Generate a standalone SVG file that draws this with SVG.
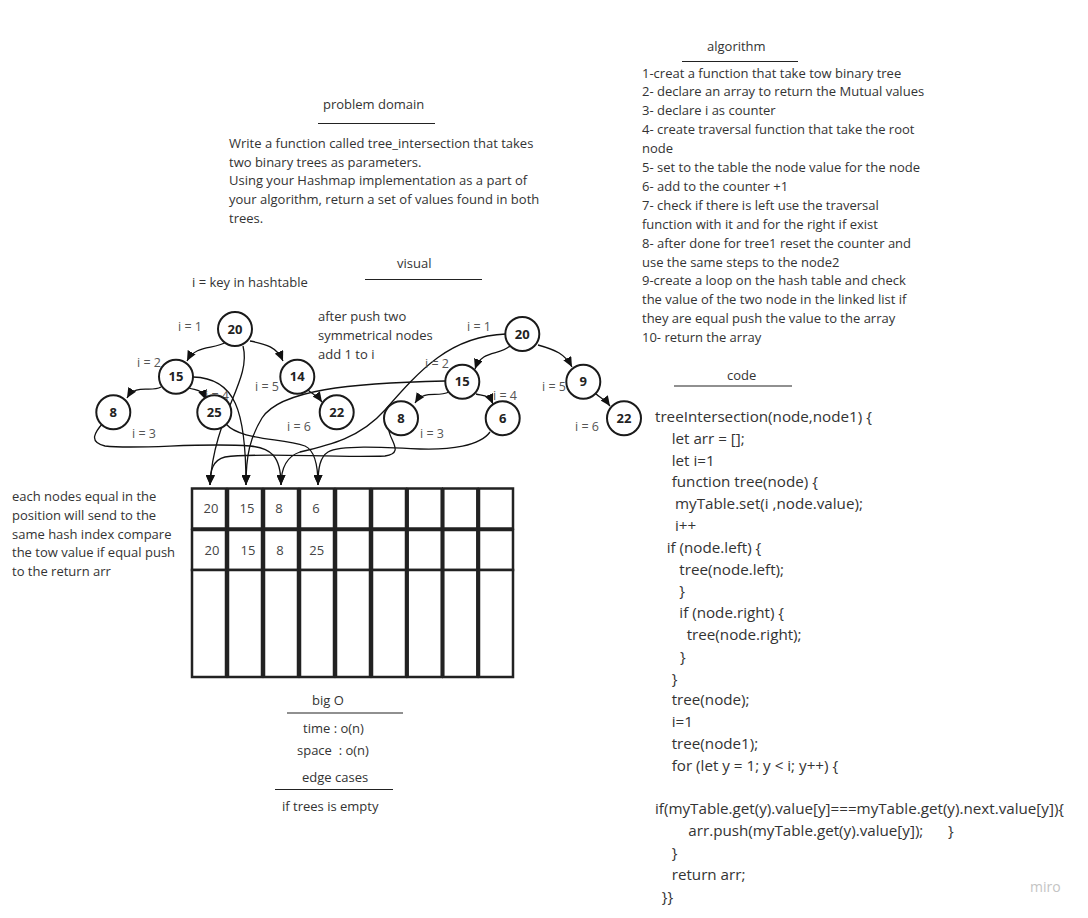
<svg xmlns="http://www.w3.org/2000/svg" width="1088" height="918" viewBox="0 0 1088 918">
<defs>
<marker id="arr" markerUnits="userSpaceOnUse" markerWidth="11" markerHeight="9" refX="10" refY="4.5" orient="auto">
<path d="M0,0 L10,4.5 L0,9 z" fill="#111"/>
</marker>
<style>
.t{font-family:"Open Sans","Liberation Sans",sans-serif;font-size:13px;fill:#333}
.c{font-family:"Open Sans","Liberation Sans",sans-serif;font-size:15.2px;fill:#333;white-space:pre}
.lb{font-family:"Open Sans","Liberation Sans",sans-serif;font-size:12.5px;fill:#555}
.nt{font-family:"Open Sans","Liberation Sans",sans-serif;font-size:13px;font-weight:bold;fill:#222;text-anchor:middle}
.tc{font-family:"Open Sans","Liberation Sans",sans-serif;font-size:13px;fill:#444;text-anchor:middle}
.ul{stroke:#222;stroke-width:1.2}
.n{fill:#fff;stroke:#1a1a1a;stroke-width:2}
.e{fill:none;stroke:#111;stroke-width:1.3;marker-end:url(#arr)}
.cell{fill:#fff;stroke:#222;stroke-width:2.5}
</style>
</defs>
<rect width="1088" height="918" fill="#fff"/>

<g id="algorithm">
<text class="t" x="707" y="51">algorithm</text>
<line class="ul" x1="682" y1="61.5" x2="798" y2="61.5"/>
<text class="t" x="642" y="77.5">1-creat a function that take tow binary tree</text>
<text class="t" x="642" y="96.4">2- declare an array to return the Mutual values</text>
<text class="t" x="642" y="115.3">3- declare i as counter</text>
<text class="t" x="642" y="134.2">4- create traversal function that take the root</text>
<text class="t" x="642" y="153.1">node</text>
<text class="t" x="642" y="172">5- set to the table the node value for the node</text>
<text class="t" x="642" y="190.9">6- add to the counter +1</text>
<text class="t" x="642" y="209.8">7- check if there is left use the traversal</text>
<text class="t" x="642" y="228.7">function with it and for the right if exist</text>
<text class="t" x="642" y="247.6">8- after done for tree1 reset the counter and</text>
<text class="t" x="642" y="266.5">use the same steps to the node2</text>
<text class="t" x="642" y="285.4">9-create a loop on the hash table and check</text>
<text class="t" x="642" y="304.3">the value of the two node in the linked list if</text>
<text class="t" x="642" y="323.2">they are equal push the value to the array</text>
<text class="t" x="642" y="342.1">10- return the array</text>
</g>

<g id="problem-domain">
<text class="t" x="323" y="109">problem domain</text>
<line class="ul" x1="318" y1="123.5" x2="435" y2="123.5"/>
<text class="t" x="229" y="147.8">Write a function called tree_intersection that takes</text>
<text class="t" x="229" y="166.6">two binary trees as parameters.</text>
<text class="t" x="229" y="185.4">Using your Hashmap implementation as a part of</text>
<text class="t" x="229" y="204.2">your algorithm, return a set of values found in both</text>
<text class="t" x="229" y="223">trees.</text>
</g>

<g id="visual-title">
<text class="t" x="397" y="268">visual</text>
<line class="ul" x1="365" y1="279.5" x2="482" y2="279.5"/>
<text class="t" x="192" y="287">i = key in hashtable</text>
</g>

<g id="note-push">
<text class="t" x="318" y="320.5">after push two</text>
<text class="t" x="318" y="339.5">symmetrical nodes</text>
<text class="t" x="318" y="358.5">add 1 to i</text>
</g>

<g id="note-equal">
<text class="t" x="12" y="501">each nodes equal in the</text>
<text class="t" x="12" y="519.8">position will send to the</text>
<text class="t" x="12" y="538.6">same hash index compare</text>
<text class="t" x="12" y="557.4">the tow value if equal push</text>
<text class="t" x="12" y="576.2">to the return arr</text>
</g>

<g id="connectors">
<path class="e" d="M226,342 C214,350 196,344 187,361"/>
<path class="e" d="M250,341 C266,344 277,347 283,361"/>
<path class="e" d="M161,387 C150,393 136,383 127,398"/>
<path class="e" d="M189,388 C198,391 202,389 206,400"/>
<path class="e" d="M308,390 C312,394 317,395 322,402"/>
<path class="e" d="M510,346 C499,356 482,349 475,369"/>
<path class="e" d="M538,345 C556,350 565,354 572,367"/>
<path class="e" d="M449,392 C437,398 424,389 415,403"/>
<path class="e" d="M476,394 C485,396 489,395 493,404"/>
<path class="e" d="M595,393 C600,398 605,399 610,406"/>
<path class="e" d="M243,346 C252,380 214,415 210,485"/>
<path class="e" d="M193,377 C235,378 246,410 246,485"/>
<path class="e" d="M389,431 C391,442 404,453 385,456 C330,458 260,452 225,457 C213,460 210,470 210,485"/>
<path class="e" d="M445,381 C350,383 280,390 262,418 C250,438 246,455 246,485"/>
<path class="e" d="M103,423 C95,432 88,442 105,446 C140,450 200,442 250,446 C270,448 281,455 281,485"/>
<path class="e" d="M506,334 C450,336 420,370 385,410 C360,438 330,445 300,452 C288,456 281,466 281,485"/>
<path class="e" d="M226,424 C240,440 280,438 305,446 C314,450 318,462 318,485"/>
<path class="e" d="M490,432 C480,446 450,450 420,449 C380,447 340,445 328,452 C320,457 318,468 318,485"/>
</g>

<g id="tree1-labels">
<text class="lb" x="178" y="331">i = 1</text>
<text class="lb" x="137" y="367">i = 2</text>
<text class="lb" x="205" y="399.5">i = 4</text>
<text class="lb" x="132" y="438">i = 3</text>
<text class="lb" x="255" y="391">i = 5</text>
<text class="lb" x="287" y="431">i = 6</text>
</g>
<g id="tree2-labels">
<text class="lb" x="467" y="331">i = 1</text>
<text class="lb" x="425" y="367.5">i = 2</text>
<text class="lb" x="493" y="400">i = 4</text>
<text class="lb" x="420" y="438">i = 3</text>
<text class="lb" x="542" y="391">i = 5</text>
<text class="lb" x="575" y="431">i = 6</text>
</g>

<g id="t1-n20"><circle class="n" cx="235" cy="329" r="17"/><text class="nt" x="235" y="333.5">20</text></g>
<g id="t1-n15"><circle class="n" cx="176" cy="376.7" r="17"/><text class="nt" x="176" y="381.2">15</text></g>
<g id="t1-n14"><circle class="n" cx="297.3" cy="376.7" r="17"/><text class="nt" x="297.3" y="381.2">14</text></g>
<g id="t1-n8"><circle class="n" cx="113.3" cy="412.3" r="17"/><text class="nt" x="113.3" y="416.8">8</text></g>
<g id="t1-n25"><circle class="n" cx="214.3" cy="412.3" r="17"/><text class="nt" x="214.3" y="416.8">25</text></g>
<g id="t1-n22"><circle class="n" cx="336.7" cy="412.3" r="17"/><text class="nt" x="336.7" y="416.8">22</text></g>

<g id="t2-n20"><circle class="n" cx="522.3" cy="334" r="17"/><text class="nt" x="522.3" y="338.5">20</text></g>
<g id="t2-n15"><circle class="n" cx="462.3" cy="381.7" r="17"/><text class="nt" x="462.3" y="386.2">15</text></g>
<g id="t2-n9"><circle class="n" cx="583.3" cy="381.7" r="17"/><text class="nt" x="583.3" y="386.2">9</text></g>
<g id="t2-n8"><circle class="n" cx="401" cy="418.3" r="17"/><text class="nt" x="401" y="422.8">8</text></g>
<g id="t2-n6"><circle class="n" cx="502.7" cy="418.3" r="17"/><text class="nt" x="502.7" y="422.8">6</text></g>
<g id="t2-n22"><circle class="n" cx="624" cy="418.3" r="17"/><text class="nt" x="624" y="422.8">22</text></g>

<g id="hashtable">
<rect class="cell" x="192" y="488.5" width="34" height="40"/><rect class="cell" x="192" y="530" width="34" height="40"/><rect class="cell" x="192" y="570" width="34" height="107"/>
<rect class="cell" x="228" y="488.5" width="34" height="40"/><rect class="cell" x="228" y="530" width="34" height="40"/><rect class="cell" x="228" y="570" width="34" height="107"/>
<rect class="cell" x="264" y="488.5" width="34" height="40"/><rect class="cell" x="264" y="530" width="34" height="40"/><rect class="cell" x="264" y="570" width="34" height="107"/>
<rect class="cell" x="300" y="488.5" width="34" height="40"/><rect class="cell" x="300" y="530" width="34" height="40"/><rect class="cell" x="300" y="570" width="34" height="107"/>
<rect class="cell" x="336" y="488.5" width="34" height="40"/><rect class="cell" x="336" y="530" width="34" height="40"/><rect class="cell" x="336" y="570" width="34" height="107"/>
<rect class="cell" x="372" y="488.5" width="34" height="40"/><rect class="cell" x="372" y="530" width="34" height="40"/><rect class="cell" x="372" y="570" width="34" height="107"/>
<rect class="cell" x="407.7" y="488.5" width="34" height="40"/><rect class="cell" x="407.7" y="530" width="34" height="40"/><rect class="cell" x="407.7" y="570" width="34" height="107"/>
<rect class="cell" x="443.3" y="488.5" width="34" height="40"/><rect class="cell" x="443.3" y="530" width="34" height="40"/><rect class="cell" x="443.3" y="570" width="34" height="107"/>
<rect class="cell" x="479" y="488.5" width="34" height="40"/><rect class="cell" x="479" y="530" width="34" height="40"/><rect class="cell" x="479" y="570" width="34" height="107"/>
<text class="tc" x="211" y="512.8">20</text>
<text class="tc" x="247" y="512.8">15</text>
<text class="tc" x="279" y="512.8">8</text>
<text class="tc" x="316" y="512.8">6</text>
<text class="tc" x="212" y="554.5">20</text>
<text class="tc" x="248" y="554.5">15</text>
<text class="tc" x="280" y="554.5">8</text>
<text class="tc" x="316.7" y="554.5">25</text>
</g>

<g id="big-o">
<text class="t" x="312" y="704.5">big O</text>
<line class="ul" x1="287" y1="713" x2="403" y2="713"/>
<text class="t" x="303" y="733">time : o(n)</text>
<text class="t" x="297" y="755" style="white-space:pre">space  : o(n)</text>
<text class="t" x="302" y="782">edge cases</text>
<line class="ul" x1="275" y1="789.5" x2="393" y2="789.5"/>
<text class="t" x="282" y="811">if trees is empty</text>
</g>

<g id="code">
<text class="t" x="727" y="380">code</text>
<line class="ul" x1="674" y1="386" x2="792" y2="386"/>
<text class="c" x="655" y="422">treeIntersection(node,node1) {</text>
<text class="c" x="671.7" y="443.8">let arr = [];</text>
<text class="c" x="671.7" y="465.6">let i=1</text>
<text class="c" x="671.7" y="487.4">function tree(node) {</text>
<text class="c" x="675" y="509.2">myTable.set(i ,node.value);</text>
<text class="c" x="675" y="531">i++</text>
<text class="c" x="666.7" y="552.8">if (node.left) {</text>
<text class="c" x="679.3" y="574.6">tree(node.left);</text>
<text class="c" x="679.3" y="596.4">}</text>
<text class="c" x="679.3" y="618.2">if (node.right) {</text>
<text class="c" x="686.7" y="640">tree(node.right);</text>
<text class="c" x="680" y="661.8">}</text>
<text class="c" x="671.7" y="683.6">}</text>
<text class="c" x="671.7" y="705.4">tree(node);</text>
<text class="c" x="671.7" y="727.2">i=1</text>
<text class="c" x="671.7" y="749">tree(node1);</text>
<text class="c" x="671.7" y="770.8">for (let y = 1; y &lt; i; y++) {</text>
<text class="c" x="655" y="814.4">if(myTable.get(y).value[y]===myTable.get(y).next.value[y]){</text>
<text class="c" x="688.3" y="836.2">arr.push(myTable.get(y).value[y]);</text>
<text class="c" x="948" y="836.2">}</text>
<text class="c" x="671.7" y="858">}</text>
<text class="c" x="671.7" y="879.8">return arr;</text>
<text class="c" x="661.7" y="901.6">}}</text>
</g>

<text x="1030" y="892" style="font-family:'Open Sans','Liberation Sans',sans-serif;font-size:14px;fill:#c4c4c4">miro</text>
</svg>
